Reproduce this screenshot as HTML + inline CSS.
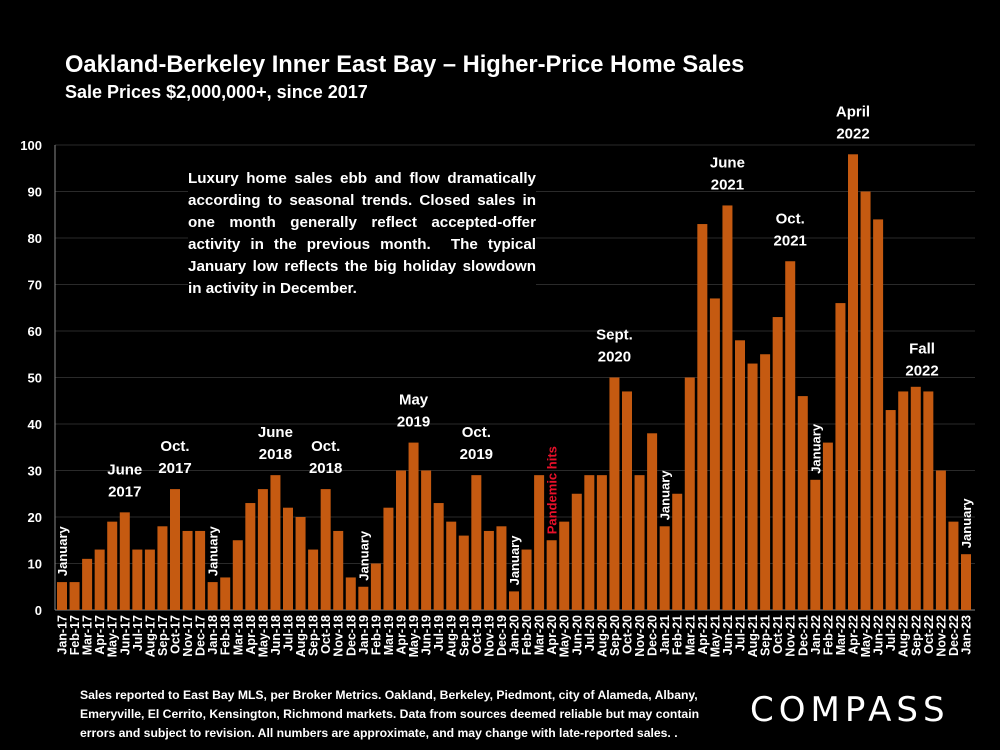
<!DOCTYPE html>
<html><head><meta charset="utf-8"><style>
body{margin:0;background:#000;width:1000px;height:750px;overflow:hidden;font-family:"Liberation Sans",sans-serif;}
svg text{font-family:"Liberation Sans",sans-serif;font-weight:bold;fill:#fff;}
#note{position:absolute;left:188px;top:168px;width:348px;color:#fff;font:bold 15.2px/22px "Liberation Sans",sans-serif;text-align:justify;background:#000;}
#foot{position:absolute;left:80px;top:686px;width:650px;color:#fff;font:bold 12.2px/19px "Liberation Sans",sans-serif;}
#logo{position:absolute;left:750px;top:690px;color:#fff;font:normal 34px "DejaVu Sans",sans-serif;letter-spacing:5px;}
</style></head><body>
<svg id="chart" width="1000" height="750" style="position:absolute;left:0;top:0">
<text x="65" y="72" font-size="23.7">Oakland-Berkeley Inner East Bay – Higher-Price Home Sales</text>
<text x="65" y="98" font-size="18">Sale Prices $2,000,000+, since 2017</text>
<g id="grid"></g><g id="bars"></g><g id="xl"></g><g id="ann"></g>
</svg>
<div id="note">Luxury home sales ebb and flow dramatically according to seasonal trends. Closed sales in one month generally reflect accepted-offer activity in the previous month.&nbsp; The typical January low reflects the big holiday slowdown in activity in December.</div>
<div id="foot">Sales reported to East Bay MLS, per Broker Metrics. Oakland, Berkeley, Piedmont, city of Alameda, Albany, Emeryville, El Cerrito, Kensington, Richmond markets. Data from sources deemed reliable but may contain errors and subject to revision. All numbers are approximate, and may change with late-reported sales. .</div>
<div id="logo">COMPASS</div>
<script>
const months=["Jan","Feb","Mar","Apr","May","Jun","Jul","Aug","Sep","Oct","Nov","Dec"];
const categories=[];for(let y=17;y<=23;y++)for(let m=0;m<12;m++){if(y===23&&m>0)break;categories.push(months[m]+"-"+y);}
const sales=[6,6,11,13,19,21,13,13,18,26,17,17, 6,7,15,23,26,29,22,20,13,26,17,7, 5,10,22,30,36,30,23,19,16,29,17,18, 4,13,29,15,19,25,29,29,50,47,29,38, 18,25,50,83,67,87,58,53,55,63,75,46, 28,36,66,98,90,84,43,47,48,47,30,19, 12];
const yTicks=[0,10,20,30,40,50,60,70,80,90,100];
const NS="http://www.w3.org/2000/svg";
const x=i=>62+i*(966-62)/72, y=v=>610-v*4.65;
function mk(t,a,p,txt){const e=document.createElementNS(NS,t);for(const k in a)e.setAttribute(k,a[k]);if(txt!=null)e.textContent=txt;p.appendChild(e);return e;}
const G=document.getElementById('grid'),B=document.getElementById('bars'),XL=document.getElementById('xl'),A=document.getElementById('ann');
yTicks.forEach(t=>{const l=mk('line',{x1:55,x2:975,y1:y(t),y2:y(t),stroke:t?'#2a2a2a':'#888','stroke-width':1},G);


const tx=mk('text',{x:42,y:y(t)+5,'text-anchor':'end','font-size':13},G,t);

});
mk('line',{x1:55,x2:55,y1:y(0),y2:y(100),stroke:'#888'},G);
sales.forEach((v,i)=>{const r=mk('rect',{x:x(i)-5,y:y(v),width:10,height:y(0)-y(v),fill:'#c55a11'},B);


const t=mk('text',{transform:`translate(${x(i)+4.5},615) rotate(-90)`,'text-anchor':'end','font-size':12.5},XL,categories[i]);

});
const labels=[[5,"June","2017"],[9,"Oct.","2017"],[17,"June","2018"],[21,"Oct.","2018"],[28,"May","2019"],[33,"Oct.","2019"],[44,"Sept.","2020"],[53,"June","2021"],[58,"Oct.","2021"],[63,"April","2022"],[68.5,"Fall","2022"]];
labels.forEach(([i,a,b])=>{const top=y(sales[Math.round(i)]||48)-16;const t=mk('text',{x:x(i),y:top-22,'text-anchor':'middle','font-size':15},A,a);


const t2=mk('text',{x:x(i),y:top,'text-anchor':'middle','font-size':15},A,b);

});
[0,12,24,36,48,60,72].forEach(i=>{const t=mk('text',{transform:`translate(${x(i)+5},${y(sales[i])-6}) rotate(-90)`,'font-size':13},A,"January");

});
const p=mk('text',{transform:`translate(${x(39)+5},${y(sales[39])-6}) rotate(-90)`,'font-size':13,style:'fill:#e8102a'},A,"Pandemic hits");


</script>
</body></html>
